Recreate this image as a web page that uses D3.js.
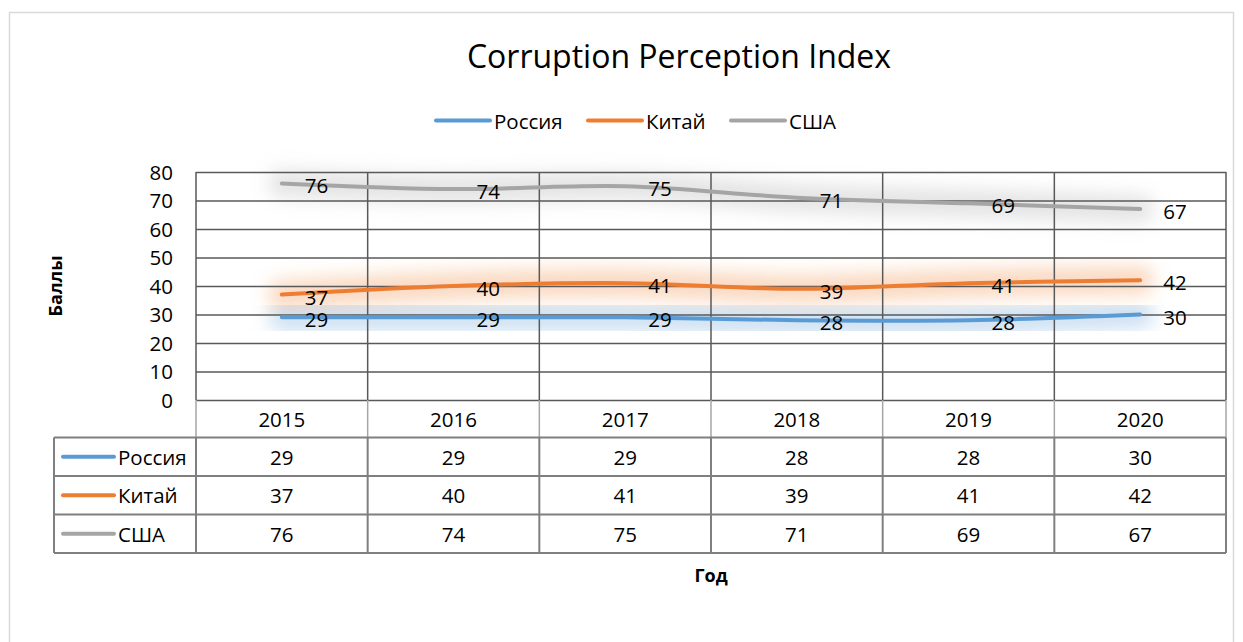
<!DOCTYPE html>
<html><head><meta charset="utf-8">
<script src="https://cdn.jsdelivr.net/npm/d3@7"></script>
<style>
html,body{margin:0;padding:0;background:#fff;}
svg{display:block;font-family:"Open Sans","Noto Sans",sans-serif;}
</style></head>
<body>
<svg id="c" width="1243" height="642"></svg>
<script>
const title = "Corruption Perception Index";
const years = ["2015","2016","2017","2018","2019","2020"];
const seriesNames = ["Россия","Китай","США"];
const russia = [29,29,29,28,28,30];
const china = [37,40,41,39,41,42];
const usa = [76,74,75,71,69,67];
const colors = ["#5b9bd5","#ed7d31","#a5a5a5"];
const yTicks = [0,10,20,30,40,50,60,70,80];
const yTitle = "Баллы";
const xTitle = "Год";

const seriesValues = [russia, china, usa];

const svg = d3.select("#c");
const L = 196, R = 1226, T = 172, B = 400;
const rowH = 38.5, headerBottom = 437.5, tableLeft = 54;
const FS = 20.5;

const x = d3.scaleBand().domain(years).range([L, R]);
const y = d3.scaleLinear().domain([0, 80]).range([B, T]);
const cx = d => x(d) + x.bandwidth() / 2;

// outer frame
svg.append("rect").attr("x", 9.5).attr("y", 12.5).attr("width", 1224).attr("height", 660)
  .attr("fill", "#fff").attr("stroke", "#d9d9d9").attr("stroke-width", 1.5);

// defs glow
const defs = svg.append("defs");
defs.append("filter").attr("id", "blur").attr("x", "-20%").attr("y", "-150%").attr("width", "140%").attr("height", "400%")
  .append("feGaussianBlur").attr("stdDeviation", 9);

// title
svg.append("text").attr("x", 679).attr("y", 55).attr("text-anchor", "middle")
  .attr("dominant-baseline", "central").attr("font-size", 32).attr("fill", "#000").text(title);

// legend
const legX = [436, 588, 731];
seriesNames.forEach((n, i) => {
  const g = svg.append("g");
  g.append("line").attr("x1", legX[i]).attr("x2", legX[i] + 54).attr("y1", 120.5).attr("y2", 120.5)
    .attr("stroke", colors[i]).attr("stroke-width", 4).attr("stroke-linecap", "round");
  g.append("text").attr("x", legX[i] + 58).attr("y", 121).attr("dominant-baseline", "central")
    .attr("font-size", FS).attr("fill", "#000").text(n);
});

const line = d3.line().x((d, i) => cx(years[i])).y(d => y(d)).curve(d3.curveCatmullRom.alpha(0.5));

// glow
seriesValues.forEach((vals, i) => {
  svg.append("path").attr("d", line(vals)).attr("fill", "none").attr("stroke", colors[i])
    .attr("stroke-width", 28).attr("stroke-opacity", 0.3).attr("stroke-linecap", "round")
    .attr("filter", "url(#blur)");
});

// horizontal gridlines via axis
const yAxis = d3.axisLeft(y).tickValues(yTicks).tickSize(-(R - L)).tickPadding(23);
const ga = svg.append("g").attr("transform", `translate(${L},0)`).call(yAxis);
ga.select(".domain").remove();
ga.selectAll(".tick line").attr("stroke", "#595959").attr("stroke-width", 1.5);
ga.selectAll(".tick text").attr("font-size", FS).attr("fill", "#000")
  .attr("font-family", "Open Sans").attr("dy", "0.35em");

// vertical gridlines in plot
const bounds = years.map(d => x(d)).concat([R]);
svg.append("g").selectAll("line").data(bounds).join("line")
  .attr("x1", d => d).attr("x2", d => d).attr("y1", T).attr("y2", B)
  .attr("stroke", "#595959").attr("stroke-width", 1.5);

// header row vertical lines (lighter)
svg.append("g").selectAll("line").data(bounds).join("line")
  .attr("x1", d => d).attr("x2", d => d).attr("y1", B).attr("y2", headerBottom)
  .attr("stroke", "#a6a6a6").attr("stroke-width", 1.5);

// lines
seriesValues.forEach((vals, i) => {
  svg.append("path").attr("d", line(vals)).attr("fill", "none").attr("stroke", colors[i])
    .attr("stroke-width", 4).attr("stroke-linecap", "round");
});

// data labels
seriesValues.forEach((vals, i) => {
  svg.append("g").selectAll("text").data(vals).join("text")
    .attr("x", (d, j) => cx(years[j]) + 23).attr("y", d => y(d) + 2)
    .attr("dominant-baseline", "central").attr("font-size", FS).attr("fill", "#000")
    .text(d => d);
});

// header years
svg.append("g").selectAll("text").data(years).join("text")
  .attr("x", d => cx(d)).attr("y", (B + headerBottom) / 2)
  .attr("text-anchor", "middle").attr("dominant-baseline", "central")
  .attr("font-size", FS).attr("fill", "#000").text(d => d);

// table
const tableBottom = headerBottom + rowH * 3;
const tg = svg.append("g");
for (let r = 0; r <= 3; r++) {
  tg.append("line").attr("x1", tableLeft).attr("x2", R)
    .attr("y1", headerBottom + r * rowH).attr("y2", headerBottom + r * rowH)
    .attr("stroke", "#7f7f7f").attr("stroke-width", 2);
}
[tableLeft].concat(bounds).forEach(bx => {
  tg.append("line").attr("x1", bx).attr("x2", bx).attr("y1", headerBottom).attr("y2", tableBottom)
    .attr("stroke", "#7f7f7f").attr("stroke-width", 2);
});
seriesNames.forEach((n, i) => {
  const yc = headerBottom + rowH * (i + 0.5);
  tg.append("line").attr("x1", 63).attr("x2", 114).attr("y1", yc).attr("y2", yc)
    .attr("stroke", colors[i]).attr("stroke-width", 4).attr("stroke-linecap", "round");
  tg.append("text").attr("x", 118).attr("y", yc).attr("dominant-baseline", "central")
    .attr("font-size", FS).attr("fill", "#000").text(n);
  tg.append("g").selectAll("text").data(seriesValues[i]).join("text")
    .attr("x", (d, j) => cx(years[j])).attr("y", yc)
    .attr("text-anchor", "middle").attr("dominant-baseline", "central")
    .attr("font-size", FS).attr("fill", "#000").text(d => d);
});

// axis titles
svg.append("text").attr("transform", "translate(55,286) rotate(-90)")
  .attr("text-anchor", "middle").attr("dominant-baseline", "central")
  .attr("font-size", 18).attr("font-weight", "bold").attr("fill", "#000").text(yTitle);
svg.append("text").attr("x", 711).attr("y", 575)
  .attr("text-anchor", "middle").attr("dominant-baseline", "central")
  .attr("font-size", 18).attr("font-weight", "bold").attr("fill", "#000").text(xTitle);
</script>
</body></html>
